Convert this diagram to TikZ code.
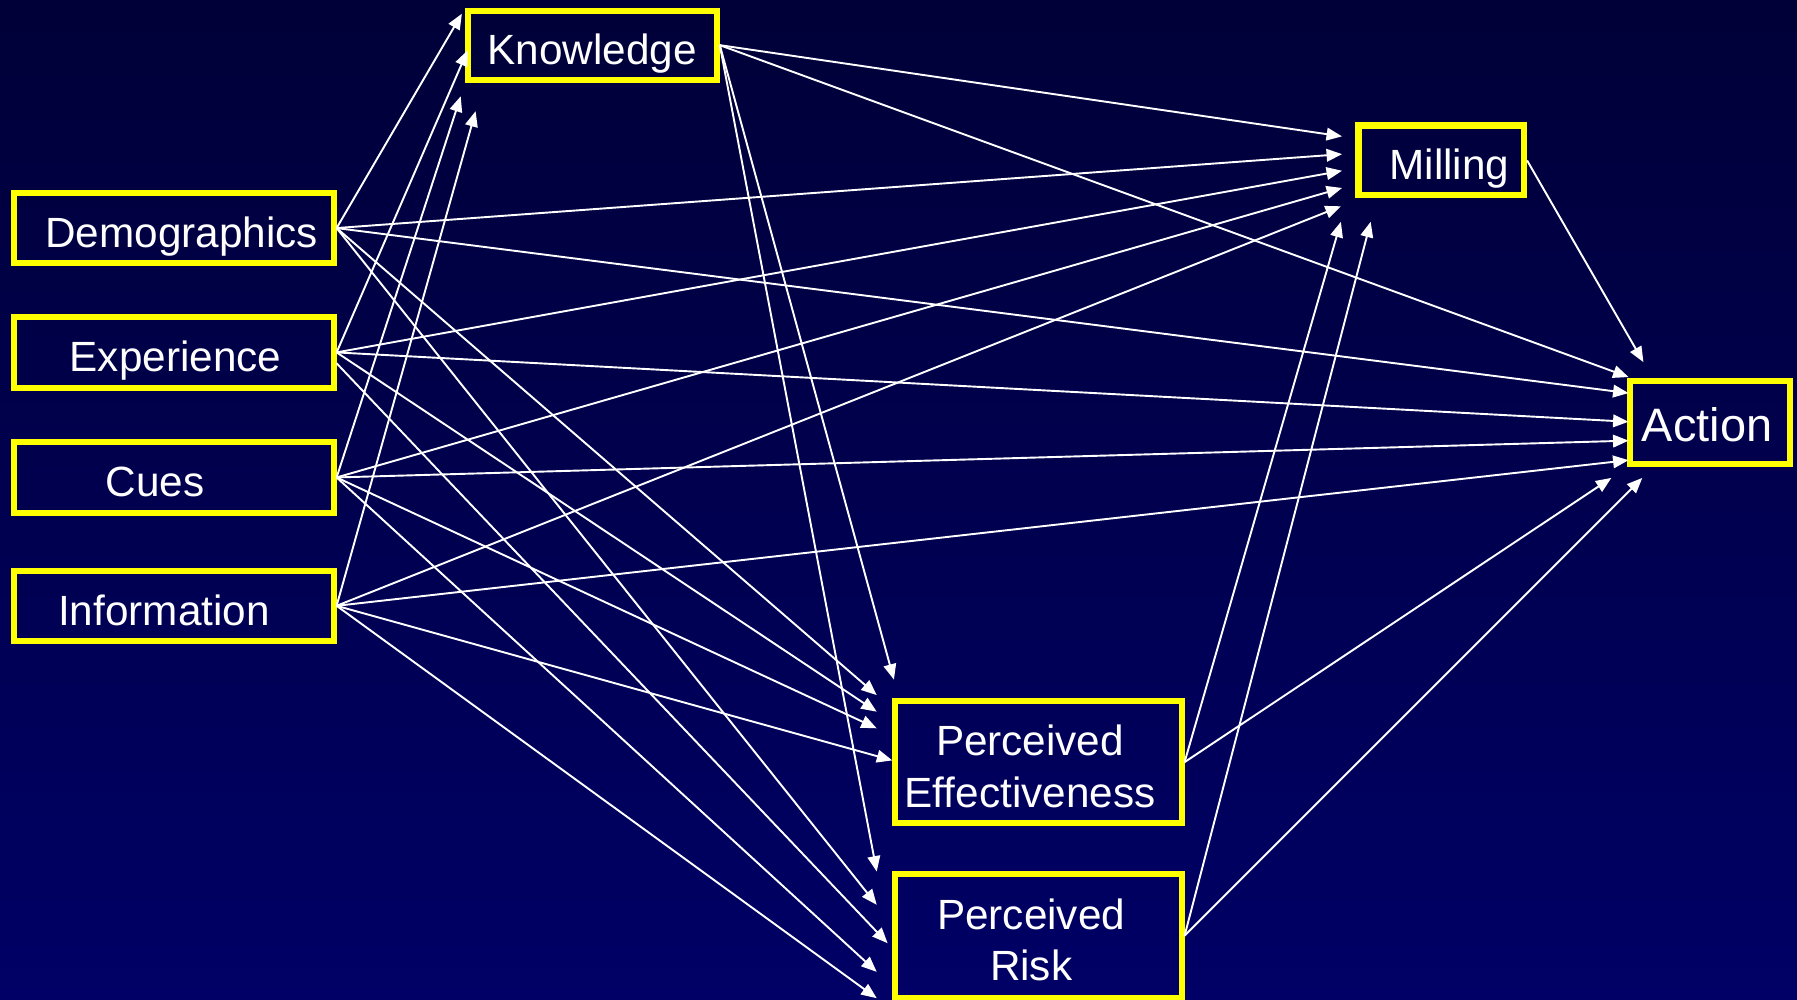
\documentclass[tikz,border=0pt]{standalone}
\usepackage{fontspec}
\setmainfont{Liberation Sans}
\usetikzlibrary{arrows.meta}

\definecolor{slidetop}{RGB}{0,0,56}
\definecolor{slidebot}{RGB}{0,0,102}
\definecolor{boxyellow}{RGB}{255,255,0}

\tikzset{
  factor/.style={draw=boxyellow, line width=3pt, inner sep=0pt},
  every label/.style={text=white, align=center, text depth=0pt, yshift=-.07cm, font=\fontsize{21}{25.6}\selectfont},
  link/.style={draw=white, line width=0.95pt, -{Triangle[length=0.27cm,width=0.22cm]}},
}

\begin{document}
\begin{tikzpicture}[x=0.02cm, y=-0.02cm]
  \shade [top color=slidetop, bottom color=slidebot] (0,0) rectangle (1568,872);
  \useasboundingbox (0,0) rectangle (1568,872);

  % left column
  \node [factor, minimum width=5.58cm, minimum height=1.23cm, label={[xshift=.14cm]center:Demographics}] (demo) at (151.6,199) {};
  \node [factor, minimum width=5.58cm, minimum height=1.23cm, label={[xshift=.03cm]center:Experience}] (expe) at (151.6,307.5) {};
  \node [factor, minimum width=5.58cm, minimum height=1.23cm, label={[xshift=-.33cm]center:Cues}] (cues) at (151.6,416.6) {};
  \node [factor, minimum width=5.58cm, minimum height=1.23cm, label={[xshift=-.17cm]center:Information}] (info) at (151.6,528.6) {};

  % middle and right
  \node [factor, minimum width=4.35cm, minimum height=1.2cm, label={center:Knowledge}] (know) at (516.7,39.4) {};
  \node [factor, minimum width=5.01cm, minimum height=2.12cm, label={[xshift=-.14cm]center:{Perceived\\Effectiveness}}] (peff) at (905.75,665) {};
  \node [factor, minimum width=5.01cm, minimum height=2.16cm, label={[xshift=-.12cm]center:{Perceived\\Risk}}] (prisk) at (905.75,816.5) {};
  \node [factor, minimum width=2.89cm, minimum height=1.22cm, label={[xshift=.14cm]center:Milling}] (mill) at (1257.6,140) {};
  \node [factor, minimum width=2.78cm, minimum height=1.44cm, label={[xshift=-.05cm, yshift=.04cm, font=\fontsize{23.3}{28}\selectfont]center:Action}] (act) at (1492.1,368.6) {};

  % arrow tips
  \coordinate (k-demo) at (403,12);
  \coordinate (k-expe) at (408,44);
  \coordinate (k-cues) at (402,84);
  \coordinate (k-info) at (415,97);
  \coordinate (m-know) at (1171,119);
  \coordinate (m-demo) at (1171,134.5);
  \coordinate (m-expe) at (1171,149);
  \coordinate (m-cues) at (1171,164);
  \coordinate (m-info) at (1170,180);
  \coordinate (m-peff) at (1170,193.5);
  \coordinate (m-prisk) at (1196,193.5);
  \coordinate (a-mill) at (1434,316);
  \coordinate (a-know) at (1421,329);
  \coordinate (a-demo) at (1421,343);
  \coordinate (a-expe) at (1421,368);
  \coordinate (a-cues) at (1421,384.5);
  \coordinate (a-info) at (1421,401.5);
  \coordinate (a-peff) at (1406,417);
  \coordinate (a-prisk) at (1433,417);
  \coordinate (pe-know) at (780,593);
  \coordinate (pe-demo) at (765,606.5);
  \coordinate (pe-expe) at (765,621);
  \coordinate (pe-cues) at (765,635.5);
  \coordinate (pe-info) at (778.6,663.5);
  \coordinate (pr-know) at (765,760.5);
  \coordinate (pr-demo) at (765,789.5);
  \coordinate (pr-expe) at (774.5,823);
  \coordinate (pr-cues) at (765,848);
  \coordinate (pr-info) at (765,871);

  \draw [link] (demo.east) -- (k-demo);
  \draw [link] (demo.east) -- (m-demo);
  \draw [link] (demo.east) -- (a-demo);
  \draw [link] (demo.east) -- (pe-demo);
  \draw [link] (demo.east) -- (pr-demo);

  \draw [link] (expe.east) -- (k-expe);
  \draw [link] (expe.east) -- (m-expe);
  \draw [link] (expe.east) -- (a-expe);
  \draw [link] (expe.east) -- (pe-expe);
  \draw [link] ([yshift=-.19cm]expe.east) -- (pr-expe);

  \draw [link] (cues.east) -- (k-cues);
  \draw [link] (cues.east) -- (m-cues);
  \draw [link] (cues.east) -- (a-cues);
  \draw [link] (cues.east) -- (pe-cues);
  \draw [link] (cues.east) -- (pr-cues);

  \draw [link] (info.east) -- (k-info);
  \draw [link] (info.east) -- (m-info);
  \draw [link] (info.east) -- (a-info);
  \draw [link] (info.east) -- (pe-info);
  \draw [link] (info.east) -- (pr-info);

  \draw [link] (know.east) -- (m-know);
  \draw [link] (know.east) -- (a-know);
  \draw [link] (know.east) -- (pe-know);
  \draw [link] (know.east) -- (pr-know);

  \draw [link] (mill.east) -- (a-mill);
  \draw [link] (peff.east) -- (m-peff);
  \draw [link] (peff.east) -- (a-peff);
  \draw [link] (prisk.east) -- (m-prisk);
  \draw [link] (prisk.east) -- (a-prisk);
\end{tikzpicture}
\end{document}
